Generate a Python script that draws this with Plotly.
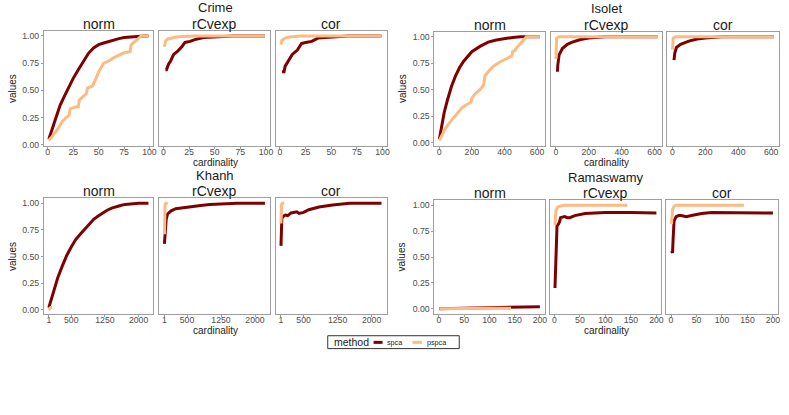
import plotly.graph_objects as go

# ---------------- data ----------------
methods = ["spca", "pspca"]
metrics = ["norm", "rCvexp", "cor"]
datasets = ["Crime", "Isolet", "Khanh", "Ramaswamy"]

crime_ticks = [0, 25, 50, 75, 100]
isolet_ticks = [0, 200, 400, 600]
khanh_ticks = [1, 500, 1250, 2000]
rama_ticks = [0, 50, 100, 150, 200]
y_ticks = [0.0, 0.25, 0.5, 0.75, 1.0]
y_ticklabels = ["0.00", "0.25", "0.50", "0.75", "1.00"]

# Crime
crime_norm_spca_x = [1, 3, 5, 8, 12, 16, 20, 25, 30, 35, 40, 45, 50, 55, 60, 65, 70, 75, 80, 85, 90, 95, 99]
crime_norm_spca_y = [0.05, 0.11, 0.17, 0.25, 0.36, 0.44, 0.52, 0.61, 0.69, 0.77, 0.84, 0.89, 0.92, 0.935, 0.95, 0.965, 0.975, 0.985, 0.99, 0.995, 1.0, 1.0, 1.0]
crime_norm_pspca_x = [1, 4, 7, 11, 14, 18, 21, 22, 28, 30, 31, 35, 38, 39, 44, 47, 50, 55, 60, 65, 71, 75, 81, 82, 87, 92, 99]
crime_norm_pspca_y = [0.04, 0.07, 0.11, 0.16, 0.21, 0.25, 0.27, 0.33, 0.35, 0.35, 0.41, 0.44, 0.47, 0.52, 0.54, 0.60, 0.67, 0.75, 0.77, 0.80, 0.83, 0.845, 0.855, 0.92, 0.96, 1.0, 1.0]
crime_rcv_spca_x = [2, 3, 5, 7, 10, 14, 18, 21, 26, 32, 39, 52, 68, 99]
crime_rcv_spca_y = [0.69, 0.69, 0.74, 0.77, 0.83, 0.86, 0.90, 0.94, 0.95, 0.97, 0.985, 0.994, 1.0, 1.0]
crime_rcv_pspca_x = [1, 2, 4, 7, 12, 20, 30, 99]
crime_rcv_pspca_y = [0.90, 0.95, 0.97, 0.98, 0.99, 0.995, 1.0, 1.0]
crime_cor_spca_x = [2, 4, 5, 9, 12, 17, 21, 25, 31, 37, 50, 66, 99]
crime_cor_spca_y = [0.67, 0.67, 0.72, 0.78, 0.83, 0.87, 0.93, 0.94, 0.95, 0.98, 0.99, 1.0, 1.0]
crime_cor_pspca_x = [1, 2, 5, 10, 20, 99]
crime_cor_pspca_y = [0.92, 0.96, 0.98, 0.99, 1.0, 1.0]

# Isolet
isolet_norm_spca_x = [1, 10, 20, 30, 50, 75, 100, 125, 150, 200, 250, 300, 350, 400, 450, 500, 550, 617]
isolet_norm_spca_y = [0.03, 0.12, 0.20, 0.28, 0.40, 0.53, 0.63, 0.71, 0.77, 0.86, 0.91, 0.95, 0.97, 0.985, 0.995, 1.0, 1.0, 1.0]
isolet_norm_pspca_x = [1, 15, 40, 75, 110, 140, 170, 195, 200, 220, 250, 270, 275, 280, 300, 330, 370, 410, 445, 450, 465, 470, 500, 525, 535, 617]
isolet_norm_pspca_y = [0.02, 0.06, 0.14, 0.21, 0.28, 0.33, 0.36, 0.38, 0.42, 0.46, 0.50, 0.54, 0.57, 0.63, 0.67, 0.72, 0.76, 0.79, 0.82, 0.86, 0.87, 0.89, 0.94, 0.98, 1.0, 1.0]
isolet_rcv_spca_x = [10, 12, 20, 40, 70, 100, 150, 200, 300, 617]
isolet_rcv_spca_y = [0.67, 0.73, 0.83, 0.89, 0.93, 0.95, 0.975, 0.99, 1.0, 1.0]
isolet_rcv_pspca_x = [1, 3, 5, 20, 617]
isolet_rcv_pspca_y = [0.79, 0.95, 0.99, 1.0, 1.0]
isolet_cor_spca_x = [10, 15, 25, 50, 100, 150, 200, 300, 617]
isolet_cor_spca_y = [0.78, 0.85, 0.90, 0.93, 0.96, 0.98, 0.99, 1.0, 1.0]
isolet_cor_pspca_x = [1, 3, 5, 20, 617]
isolet_cor_pspca_y = [0.88, 0.96, 0.99, 1.0, 1.0]

# Khanh
khanh_norm_spca_x = [1, 100, 200, 300, 400, 500, 600, 700, 800, 900, 1000, 1100, 1200, 1300, 1400, 1500, 1600, 1700, 1800, 1900, 2000, 2219]
khanh_norm_spca_y = [0.02, 0.16, 0.30, 0.41, 0.51, 0.59, 0.66, 0.71, 0.76, 0.81, 0.85, 0.88, 0.91, 0.935, 0.955, 0.97, 0.98, 0.99, 0.995, 1.0, 1.0, 1.0]
khanh_norm_pspca_x = [1, 20, 45, 75]
khanh_norm_pspca_y = [0.02, 0.01, 0.02, 0.02]
khanh_rcv_spca_x = [1, 10, 20, 40, 70, 100, 150, 250, 400, 600, 800, 1000, 1300, 1600, 2219]
khanh_rcv_spca_y = [0.62, 0.66, 0.71, 0.85, 0.90, 0.91, 0.93, 0.95, 0.96, 0.97, 0.98, 0.99, 0.995, 1.0, 1.0]
khanh_rcv_pspca_x = [1, 5, 15, 30, 75]
khanh_rcv_pspca_y = [0.71, 0.90, 0.99, 1.0, 1.0]
khanh_cor_spca_x = [1, 5, 20, 55, 100, 150, 225, 350, 400, 500, 615, 840, 1140, 1515, 2219]
khanh_cor_spca_y = [0.60, 0.81, 0.86, 0.88, 0.89, 0.885, 0.91, 0.92, 0.905, 0.915, 0.94, 0.965, 0.985, 1.0, 1.0]
khanh_cor_pspca_x = [1, 5, 15, 30, 75]
khanh_cor_pspca_y = [0.81, 0.95, 0.99, 1.0, 1.0]

# Ramaswamy
rama_norm_spca_x = [1, 50, 100, 150, 200]
rama_norm_spca_y = [0.001, 0.006, 0.011, 0.016, 0.02]
rama_norm_pspca_x = [1, 50, 100, 143]
rama_norm_pspca_y = [0.0, 0.005, 0.006, 0.006]
rama_rcv_spca_x = [1, 2, 3, 4, 5, 8, 10, 12, 20, 25, 30, 40, 50, 60, 80, 100, 150, 200]
rama_rcv_spca_y = [0.20, 0.40, 0.57, 0.57, 0.80, 0.82, 0.84, 0.88, 0.89, 0.88, 0.88, 0.90, 0.91, 0.92, 0.925, 0.93, 0.93, 0.925]
rama_rcv_pspca_x = [1, 3, 6, 10, 20, 143]
rama_rcv_pspca_y = [0.81, 0.95, 0.98, 0.99, 1.0, 1.0]
rama_cor_spca_x = [1, 2, 3, 4, 6, 10, 15, 20, 30, 40, 50, 60, 80, 100, 150, 200]
rama_cor_spca_y = [0.56, 0.54, 0.54, 0.66, 0.85, 0.89, 0.90, 0.90, 0.89, 0.90, 0.91, 0.92, 0.93, 0.93, 0.93, 0.925]
rama_cor_pspca_x = [1, 3, 6, 10, 143]
rama_cor_pspca_y = [0.82, 0.96, 0.99, 1.0, 1.0]

# ---------------- figure assembly ----------------
W, H = 789, 415
RED = "#7F0000"
ORANGE = "#FDBB84"
colors = {"spca": RED, "pspca": ORANGE}
FONT = "Liberation Sans, Arial, sans-serif"
NARROW = "Liberation Sans Narrow, Arial Narrow, Liberation Sans, sans-serif"
FRAME = "#9E9E9E"
TICKC = "#4D4D4D"

series = {
    "Crime": {
        "norm": ((crime_norm_spca_x, crime_norm_spca_y), (crime_norm_pspca_x, crime_norm_pspca_y)),
        "rCvexp": ((crime_rcv_spca_x, crime_rcv_spca_y), (crime_rcv_pspca_x, crime_rcv_pspca_y)),
        "cor": ((crime_cor_spca_x, crime_cor_spca_y), (crime_cor_pspca_x, crime_cor_pspca_y)),
    },
    "Isolet": {
        "norm": ((isolet_norm_spca_x, isolet_norm_spca_y), (isolet_norm_pspca_x, isolet_norm_pspca_y)),
        "rCvexp": ((isolet_rcv_spca_x, isolet_rcv_spca_y), (isolet_rcv_pspca_x, isolet_rcv_pspca_y)),
        "cor": ((isolet_cor_spca_x, isolet_cor_spca_y), (isolet_cor_pspca_x, isolet_cor_pspca_y)),
    },
    "Khanh": {
        "norm": ((khanh_norm_spca_x, khanh_norm_spca_y), (khanh_norm_pspca_x, khanh_norm_pspca_y)),
        "rCvexp": ((khanh_rcv_spca_x, khanh_rcv_spca_y), (khanh_rcv_pspca_x, khanh_rcv_pspca_y)),
        "cor": ((khanh_cor_spca_x, khanh_cor_spca_y), (khanh_cor_pspca_x, khanh_cor_pspca_y)),
    },
    "Ramaswamy": {
        "norm": ((rama_norm_spca_x, rama_norm_spca_y), (rama_norm_pspca_x, rama_norm_pspca_y)),
        "rCvexp": ((rama_rcv_spca_x, rama_rcv_spca_y), (rama_rcv_pspca_x, rama_rcv_pspca_y)),
        "cor": ((rama_cor_spca_x, rama_cor_spca_y), (rama_cor_pspca_x, rama_cor_pspca_y)),
    },
}
ticks = {"Crime": crime_ticks, "Isolet": isolet_ticks, "Khanh": khanh_ticks, "Ramaswamy": rama_ticks}

# pixel layout of each group: panel x extents and y extent
panel_x = {
    "Crime": [(44, 154), (160, 271), (277, 388)],
    "Isolet": [(436, 547), (553, 665), (670, 782)],
    "Khanh": [(44, 154), (160, 271), (277, 388)],
    "Ramaswamy": [(436, 547), (552, 664), (669, 781)],
}
panel_y = {"Crime": (31, 147), "Isolet": (32, 147), "Khanh": (200, 317), "Ramaswamy": (202, 317)}

def px(x):
    return x / W

def py(y):
    return 1 - y / H

fig = go.Figure()
layout = {}
annotations = []
axis_i = 0
for d in datasets:
    # ggplot-like 5% expansion of the data extent
    allx = [v for m in metrics for s in series[d][m] for v in s[0]]
    ally = [v for m in metrics for s in series[d][m] for v in s[1]]
    xmin, xmax = min(allx), max(allx)
    ymin, ymax = min(ally), max(ally)
    xpad = 0.05 * (xmax - xmin)
    ypad = 0.05 * (ymax - ymin)
    xr = [xmin - xpad, xmax + xpad]
    yr = [ymin - ypad, ymax + ypad]
    y0p, y1p = panel_y[d]
    for j, m in enumerate(metrics):
        axis_i += 1
        xa = "x" if axis_i == 1 else f"x{axis_i}"
        ya = "y" if axis_i == 1 else f"y{axis_i}"
        x0p, x1p = panel_x[d][j]
        for k, meth in enumerate(methods):
            xs, ys = series[d][m][k]
            fig.add_trace(go.Scatter(
                x=xs, y=ys, mode="lines", name=meth,
                line=dict(color=colors[meth], width=3),
                showlegend=False,
                xaxis=xa, yaxis=ya, hoverinfo="skip",
            ))
        layout["xaxis" if axis_i == 1 else f"xaxis{axis_i}"] = dict(
            domain=[px(x0p), px(x1p)], anchor=ya, range=xr,
            tickvals=ticks[d], ticktext=[str(t) for t in ticks[d]],
            showgrid=False, zeroline=False, showline=True, mirror=True,
            linecolor=FRAME, linewidth=1, ticks="outside", ticklen=2,
            ticklabelstandoff=-4,
            tickcolor=FRAME, tickfont=dict(size=8.7, color=TICKC, family=FONT),
        )
        layout["yaxis" if axis_i == 1 else f"yaxis{axis_i}"] = dict(
            domain=[py(y1p), py(y0p)], anchor=xa, range=yr,
            tickvals=y_ticks, ticktext=y_ticklabels,
            showticklabels=(j == 0), ticks="outside" if j == 0 else "",
            ticklen=2, tickcolor=FRAME,
            showgrid=False, zeroline=False, showline=True, mirror=True,
            linecolor=FRAME, linewidth=1,
            tickfont=dict(size=8.7, color=TICKC, family=FONT),
        )
        # strip label
        annotations.append(dict(
            text=m, x=px((x0p + x1p) / 2), y=py(y0p - 7), xref="paper", yref="paper",
            showarrow=False, xanchor="center", yanchor="middle",
            font=dict(size=14, color="#1A1A1A", family=FONT),
        ))
    gx0 = panel_x[d][0][0]
    gx1 = panel_x[d][2][1]
    # group title
    annotations.append(dict(
        text=d, x=px((gx0 + gx1) / 2), y=py(y0p - 23), xref="paper", yref="paper",
        showarrow=False, xanchor="center", yanchor="middle",
        font=dict(size=13, color="#1A1A1A", family=FONT),
    ))
    # x title
    annotations.append(dict(
        text="cardinality", x=px((gx0 + gx1) / 2), y=py(y1p + 17), xref="paper", yref="paper",
        showarrow=False, xanchor="center", yanchor="middle",
        font=dict(size=10, color="#1A1A1A", family=FONT),
    ))
    # y title
    annotations.append(dict(
        text="values", x=px(gx0 - 32), y=py((y0p + y1p) / 2), xref="paper", yref="paper",
        showarrow=False, xanchor="center", yanchor="middle", textangle=-90,
        font=dict(size=10, color="#1A1A1A", family=NARROW),
    ))

# legend (ggplot-style horizontal key box below the panels)
shapes = [
    dict(type="rect", xref="paper", yref="paper", x0=px(329), x1=px(461), y0=py(352), y1=py(339),
         line=dict(color="#333333", width=1), fillcolor="white", layer="above"),
]
leg_y = py(345.7)
annotations.append(dict(text="method", x=px(333), y=leg_y, xref="paper", yref="paper",
                        showarrow=False, xanchor="left", yanchor="middle",
                        font=dict(size=10.5, color="#1A1A1A", family=FONT)))
key_pos = {"spca": (375, 384, 386.5), "pspca": (414, 423.5, 426.5)}
for meth in methods:
    a, b, t = key_pos[meth]
    shapes.append(dict(type="line", xref="paper", yref="paper", x0=px(a), x1=px(b), y0=leg_y, y1=leg_y,
                       line=dict(color=colors[meth], width=3), layer="above"))
    annotations.append(dict(text=meth, x=px(t), y=leg_y, xref="paper", yref="paper",
                            showarrow=False, xanchor="left", yanchor="middle",
                            font=dict(size=7.2, color="#1A1A1A", family=FONT)))

fig.update_layout(
    **layout,
    width=W, height=H,
    margin=dict(l=0, r=0, t=0, b=0),
    paper_bgcolor="white", plot_bgcolor="white",
    annotations=annotations,
    shapes=shapes,
    showlegend=False,
)

fig.write_html("out.html", config={"displayModeBar": False},
               post_script="document.body.style.margin='0px';")
